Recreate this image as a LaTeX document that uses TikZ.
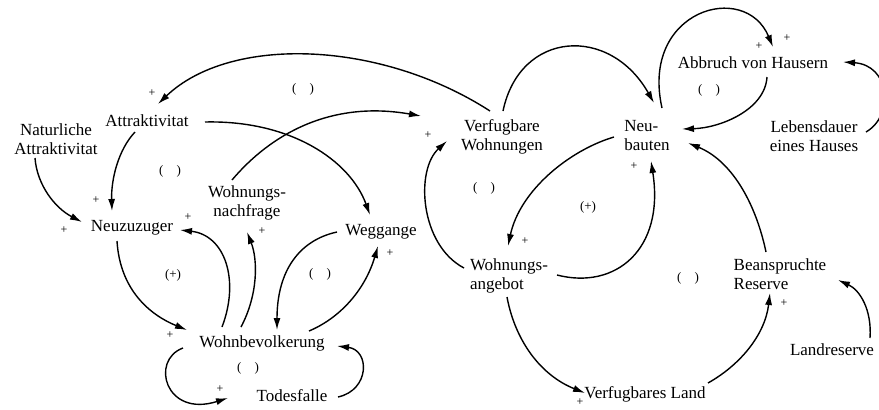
\documentclass[tikz,border=0pt]{standalone}
\usepackage{fontspec}
\setmainfont{Liberation Serif}
\usetikzlibrary{arrows.meta}
\begin{document}
\begin{tikzpicture}[x=1pt,y=-1pt,
  lbl/.style={inner sep=0pt,font=\fontsize{17}{19}\selectfont,align=center},
  lbll/.style={inner sep=0pt,font=\fontsize{17}{19}\selectfont,align=left},
  pl/.style={inner sep=0pt,font=\fontsize{12}{14}\selectfont},
  lp/.style={inner sep=0pt,font=\fontsize{13}{15}\selectfont},
  arr/.style={line width=1.4pt,-{Latex[length=12pt,width=7pt]}}]
\useasboundingbox (0,0) rectangle (879,410);
% nodes
\node[lbl] (attr) at (147,121) {Attraktivitat};
\node[lbl] (nat) at (56,139) {Naturliche\\Attraktivitat};
\node[lbl] (neu) at (132,228) {Neuzuzuger};
\node[lbl] (nach) at (247,203) {Wohnungs-\\nachfrage};
\node[lbl] (weg) at (381,232) {Weggange};
\node[lbl] (wohnb) at (262,343) {Wohnbevolkerung};
\node[lbl] (tod) at (292,396) {Todesfalle};
\node[lbl] (verf) at (502,137) {Verfugbare\\Wohnungen};
\node[lbll] (neub) at (647,136) {Neu-\\bauten};
\node[lbl] (abb) at (753,63) {Abbruch von Hausern};
\node[lbl] (leb) at (814,136) {Lebensdauer\\eines Hauses};
\node[lbll] (ang) at (509,276) {Wohnungs-\\angebot};
\node[lbl] (land) at (645,394) {Verfugbares Land};
\node[lbll] (bean) at (780,274) {Beanspruchte\\Reserve};
\node[lbl] (landr) at (832,350) {Landreserve};
% loop labels
\node[lp] (l1) at (303,89) {(\hspace{13pt})};
\node[lp] (l2) at (170,171) {(\hspace{13pt})};
\node[lp] (l3) at (173,275) {(+)};
\node[lp] (l4) at (320,274) {(\hspace{13pt})};
\node[lp] (l5) at (248,368) {(\hspace{13pt})};
\node[lp] (l6) at (484,188) {(\hspace{13pt})};
\node[lp] (l7) at (588,207) {(+)};
\node[lp] (l8) at (688,278) {(\hspace{13pt})};
\node[lp] (l9) at (709,90) {(\hspace{13pt})};
% plus signs
\node[pl] (p1) at (152,93) {+};
\node[pl] (p2) at (96,200) {+};
\node[pl] (p3) at (64,230) {+};
\node[pl] (p4) at (188,217) {+};
\node[pl] (p5) at (262,231) {+};
\node[pl] (p6) at (390,253) {+};
\node[pl] (p7) at (170,335) {+};
\node[pl] (p8) at (220,389) {+};
\node[pl] (p9) at (428,135) {+};
\node[pl] (p10) at (634,166) {+};
\node[pl] (p11) at (525,241) {+};
\node[pl] (p12) at (759,46) {+};
\node[pl] (p13) at (787,38) {+};
\node[pl] (p14) at (580,402) {+};
\node[pl] (p15) at (784,303) {+};
% connectors
\draw[arr] ([shift={(-12,-26)}]verf.center) .. controls (380,40) and (230,35) .. ([shift={(11,-17)}]attr.center);
\draw[arr] ([shift={(58,1)}]attr.center) .. controls (290,120) and (350,160) .. ([shift={(-11,-17)}]weg.center);
\draw[arr] ([shift={(-15,-23)}]nach.center) .. controls (270,135) and (330,100) .. ([shift={(-81,-21)}]verf.center);
\draw[arr] ([shift={(-12,11)}]attr.center) .. controls (118,150) and (111,180) .. ([shift={(-20,-17)}]neu.center);
\draw[arr] ([shift={(-21,19)}]nat.center) .. controls (37,185) and (55,208) .. ([shift={(-50,-6)}]neu.center);
\draw[arr] ([shift={(-15,13)}]neu.center) .. controls (120,290) and (150,315) .. ([shift={(-75,-13)}]wohnb.center);
\draw[arr] ([shift={(-40,-16)}]wohnb.center) .. controls (240,280) and (225,235) .. ([shift={(48,2)}]neu.center);
\draw[arr] ([shift={(-21,-16)}]wohnb.center) .. controls (258,295) and (258,260) .. ([shift={(0,29)}]nach.center);
\draw[arr] ([shift={(-44,0)}]weg.center) .. controls (300,240) and (277,270) .. ([shift={(15,-13)}]wohnb.center);
\draw[arr] ([shift={(47,-12)}]wohnb.center) .. controls (340,318) and (365,290) .. ([shift={(-3,14)}]weg.center);
\draw[arr] ([shift={(-79,5)}]wohnb.center) .. controls (150,360) and (165,418) .. ([shift={(-64,2)}]tod.center);
\draw[arr] ([shift={(46,1)}]tod.center) .. controls (370,390) and (370,350) .. ([shift={(75,3)}]wohnb.center);
\draw[arr] ([shift={(-45,-8)}]ang.center) .. controls (420,245) and (415,170) .. ([shift={(-55,4)}]verf.center);
\draw[arr] ([shift={(-33,1)}]neub.center) .. controls (570,150) and (520,190) .. ([shift={(-1,-30)}]ang.center);
\draw[arr] ([shift={(48,-1)}]ang.center) .. controls (615,290) and (665,250) .. ([shift={(4,25)}]neub.center);
\draw[arr] ([shift={(1,-26)}]verf.center) .. controls (520,30) and (610,25) .. ([shift={(7,-33)}]neub.center);
\draw[arr] ([shift={(15,-28)}]neub.center) .. controls (640,10) and (745,-20) .. ([shift={(20,-16)}]abb.center);
\draw[arr] ([shift={(14,14)}]abb.center) .. controls (765,110) and (720,128) .. ([shift={(35,-7)}]neub.center);
\draw[arr] ([shift={(52,-4)}]leb.center) .. controls (895,115) and (890,65) .. ([shift={(90,-1)}]abb.center);
\draw[arr] ([shift={(-14,-22)}]bean.center) .. controls (755,200) and (730,160) .. ([shift={(41,7)}]neub.center);
\draw[arr] ([shift={(63,-11)}]land.center) .. controls (740,365) and (765,335) .. ([shift={(-10,19)}]bean.center);
\draw[arr] ([shift={(38,-12)}]landr.center) .. controls (872,310) and (860,290) .. ([shift={(58,6)}]bean.center);
\draw[arr] ([shift={(-2,21)}]ang.center) .. controls (515,340) and (540,375) .. ([shift={(-60,-1)}]land.center);
\end{tikzpicture}
\end{document}
